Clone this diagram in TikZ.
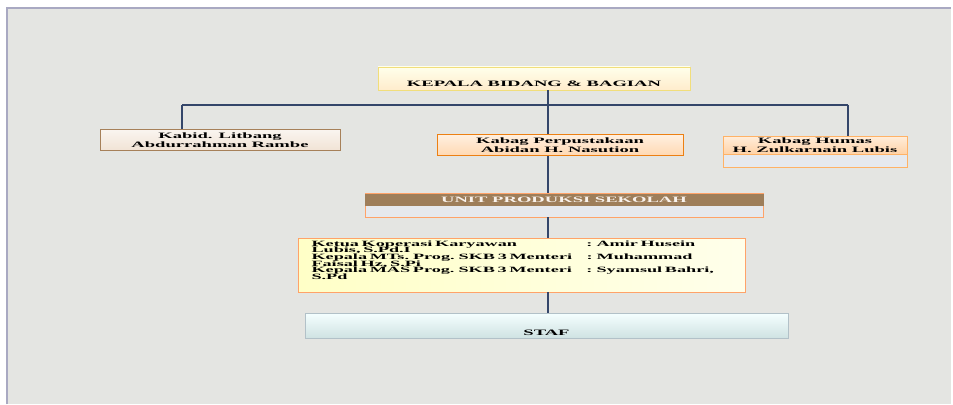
\documentclass[tikz,border=0pt]{standalone}
\usepackage{fontspec}
\newfontfamily\orgfont[FakeStretch=2.25]{Liberation Serif}
\usetikzlibrary{positioning}
\definecolor{panel}{HTML}{E4E5E2}
\definecolor{panelrim}{HTML}{A9A9C2}
\definecolor{wire}{HTML}{34466A}
\definecolor{band}{HTML}{9E7E5A}
\definecolor{paleblue}{HTML}{E6E9EE}
\tikzset{line/.style={draw=wire, line width=0.7pt},
box/.style={draw, line width=0.5pt, inner sep=0pt, align=center,
  font=\orgfont\bfseries\fontsize{4.7}{4.8}\selectfont},
headbox/.style 2 args={box, top color=#1, bottom color=#2},
note/.style={font=\orgfont\bfseries\fontsize{4.6}{3.8}\selectfont,
  execute at begin node={\lineskiplimit=-5pt\lineskip=0pt}}}

\begin{document}
\lineskiplimit=-5pt
\begin{tikzpicture}[x=0.02cm, y=-0.02cm]
\useasboundingbox (0,0) rectangle (953,405);
% Background
\fill[white] (0,0) rectangle (953,405);
\fill[panel] (7,8) rectangle (951,404);
\draw[panelrim, line width=0.6pt] (7,404) -- (7,8) -- (951,8);

% Boxes
\node[headbox={yellow!8}{yellow!25!orange!20}, draw=yellow!60!brown!60,
  minimum width=6.24cm, minimum height=0.46cm, text height=0.32cm] (kepala) at (534,78.5) {KEPALA BIDANG \& BAGIAN};
\node[headbox={brown!8}{brown!22}, draw=brown!60!gray, minimum width=4.8cm, minimum height=0.42cm] (lit) at (220,140) {Kabid. Litbang\\Abdurrahman Rambe};
\node[headbox={orange!12}{orange!30}, draw=orange!70!brown, minimum width=4.92cm, minimum height=0.42cm] (perpus) at (560,145) {Kabag Perpustakaan\\Abidan H. Nasution};
\node[box, draw=orange!60, fill=paleblue, minimum width=3.68cm, minimum height=0.62cm] (humasbox) at (815,152) {};
\node[headbox={orange!14}{orange!35}, draw=orange!60, minimum width=3.68cm, minimum height=0.36cm] (humas) at (815,145) {Kabag Humas\\H. Zulkarnain Lubis};

\node[box, draw=orange!45!pink, fill=paleblue, minimum width=7.96cm, minimum height=0.48cm] (unit) at (564,205) {};
\node[box, draw=band, fill=band, text=white!90!brown, minimum width=7.96cm, minimum height=0.22cm] (unitband) at (564,199.5) {UNIT PRODUKSI SEKOLAH};

\node[box, draw=orange!45!pink, left color=yellow!22, right color=yellow!8, minimum width=8.94cm, minimum height=1.08cm,
  text width=8.4cm, align=left, note] (anggota) at (521.5,265) {%
\makebox[5.5cm][l]{Ketua Koperasi Karyawan}: Amir Husein\\
Lubis, S.Pd.I\\
\makebox[5.5cm][l]{Kepala MTs. Prog. SKB 3 Menteri}: Muhammad\\
Faisal Hz, S.Pi\\
\makebox[5.5cm][l]{Kepala MAS Prog. SKB 3 Menteri}: Syamsul Bahri,\\
S.Pd\\[1.9pt]\mbox{}};

\node[headbox={cyan!4}{cyan!25!gray!30}, draw=cyan!20!gray!60,
  minimum width=9.66cm, minimum height=0.5cm, text height=0.42cm] (staf) at (546.5,325.5) {STAF};

% Connectors
\coordinate (bus) at (548,105);
\coordinate (busL) at (182,105);
\coordinate (busR) at (848,105);
\draw[line] (kepala.south -| bus) -- (bus);
\draw[line] (busL) -- (busR);
\draw[line] (busL) -- (busL |- lit.north);
\draw[line] (bus) -- (bus |- perpus.north);
\draw[line] (busR) -- (busR |- humas.north);
\draw[line] (perpus.south -| bus) -- (bus |- unit.north);
\draw[line] (unit.south -| bus) -- (bus |- anggota.north);
\draw[line] (anggota.south -| bus) -- (bus |- staf.north);
\end{tikzpicture}
\end{document}
